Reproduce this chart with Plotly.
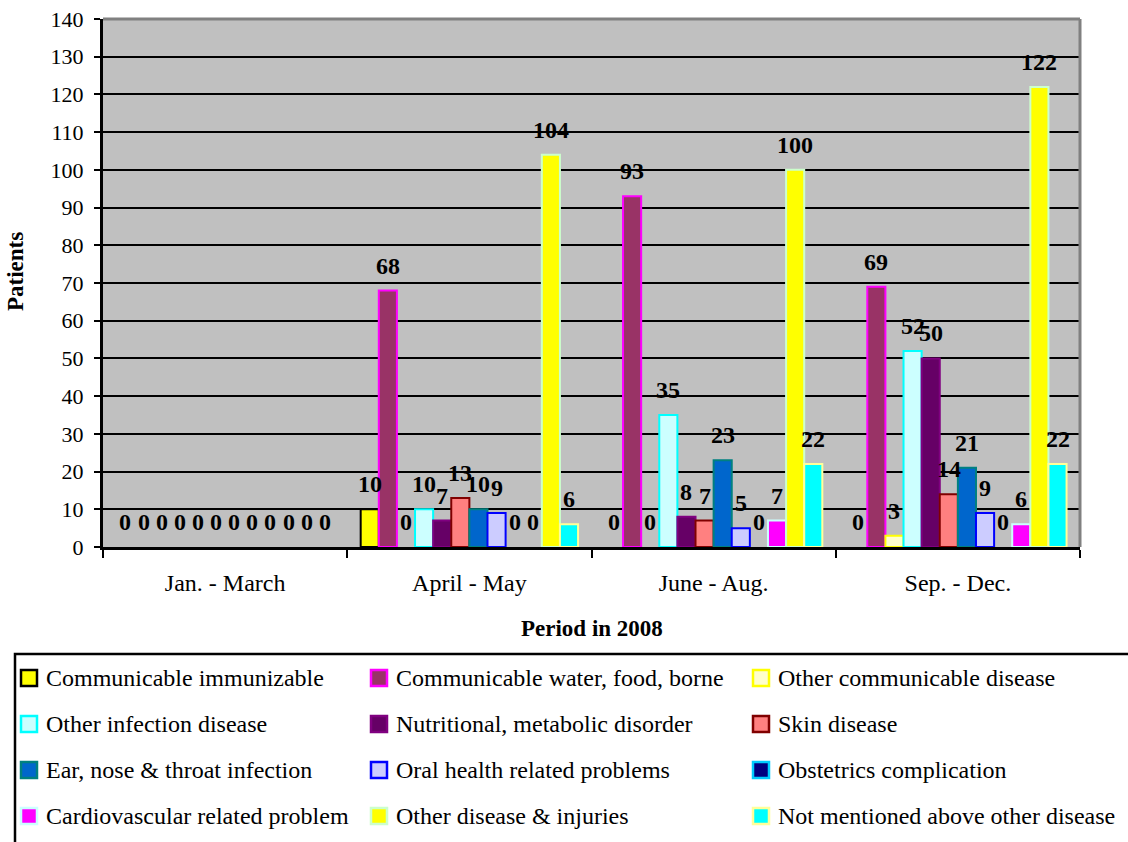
import plotly.graph_objects as go

# Patients per disease group, by period of 2008
periods = ["Jan. - March", "April - May", "June - Aug.", "Sep. - Dec."]

communicable_immunizable = [0, 10, 0, 0]
communicable_water_food = [0, 68, 93, 69]
other_communicable = [0, 0, 0, 3]
other_infection = [0, 10, 35, 52]
nutritional_metabolic = [0, 7, 8, 50]
skin_disease = [0, 13, 7, 14]
ear_nose_throat = [0, 10, 23, 21]
oral_health = [0, 9, 5, 9]
obstetrics = [0, 0, 0, 0]
cardiovascular = [0, 0, 7, 6]
other_disease_injuries = [0, 104, 100, 122]
not_mentioned = [0, 6, 22, 22]

y_ticks = list(range(0, 141, 10))

# (name, values, fill colour, border colour)
series = [
    ("Communicable immunizable", communicable_immunizable, "#FFFF00", "#000000"),
    ("Communicable water, food, borne", communicable_water_food, "#993366", "#FF00FF"),
    ("Other communicable disease", other_communicable, "#FFFFCC", "#FFFF00"),
    ("Other infection disease", other_infection, "#CCFFFF", "#00FFFF"),
    ("Nutritional, metabolic disorder", nutritional_metabolic, "#660066", "#800080"),
    ("Skin disease", skin_disease, "#FF8080", "#800000"),
    ("Ear, nose & throat infection", ear_nose_throat, "#0066CC", "#008080"),
    ("Oral health related problems", oral_health, "#CCCCFF", "#0000FF"),
    ("Obstetrics complication", obstetrics, "#000080", "#00CCFF"),
    ("Cardiovascular related problem", cardiovascular, "#FF00FF", "#CCFFFF"),
    ("Other disease & injuries", other_disease_injuries, "#FFFF00", "#CCFFCC"),
    ("Not mentioned above other disease", not_mentioned, "#00FFFF", "#FFFF99"),
]

W, H = 1128, 842
ML, MR, MT, MB = 103, 48, 19, 295
PW, PH = W - ML - MR, H - MT - MB
FONT = "Liberation Serif"
BARGAP = 0.11


def px_x(px):
    return (px - ML) / PW


def px_y(py):
    return (H - MB - py) / PH


fig = go.Figure()
for name, vals, fill, border in series:
    # empty bars get no outline so nothing shows on the baseline
    fig.add_trace(go.Bar(
        name=name, x=periods, y=vals,
        marker=dict(color=fill,
                    line=dict(color=border, width=[2 if v else 0 for v in vals])),
        showlegend=False,
    ))

annotations = []
shapes = []

# value labels above every bar
n = len(series)
bw = (1 - BARGAP) / n
for i, (name, vals, fill, border) in enumerate(series):
    for j, v in enumerate(vals):
        annotations.append(dict(
            x=j + (i - (n - 1) / 2) * bw, y=v, xref="x", yref="y",
            text=f"<b>{v}</b>", showarrow=False,
            yanchor="middle", yshift=25,
            font=dict(family=FONT, size=24, color="black"),
        ))

# axis titles
annotations.append(dict(
    x=0.5, y=0, xref="paper", yref="paper", yshift=-81, yanchor="middle",
    text="<b>Period in 2008</b>", showarrow=False,
    font=dict(family=FONT, size=23, color="black"),
))
annotations.append(dict(
    x=0, y=px_y(272), xref="paper", yref="paper", xshift=-(ML - 15),
    xanchor="center", yanchor="middle", textangle=-90,
    text="<b>Patients</b>", showarrow=False,
    font=dict(family=FONT, size=23, color="black"),
))

# grey frame on top and right of the plot area
shapes.append(dict(type="line", xref="paper", yref="paper", x0=0, x1=1, y0=1, y1=1,
                   line=dict(color="#808080", width=3)))
shapes.append(dict(type="line", xref="paper", yref="paper", x0=1, x1=1, y0=0, y1=1,
                   line=dict(color="#808080", width=3)))

# legend box
shapes.append(dict(type="rect", xref="paper", yref="paper",
                   x0=px_x(15), x1=px_x(1140), y0=px_y(654), y1=px_y(860),
                   line=dict(color="black", width=2.5), fillcolor="rgba(0,0,0,0)"))

col_x = [21, 371, 753]
row_y = [678, 724, 770, 816]
for k, (name, vals, fill, border) in enumerate(series):
    r, c = divmod(k, 3)
    x0, yc = col_x[c], row_y[r]
    shapes.append(dict(type="rect", xref="paper", yref="paper",
                       x0=px_x(x0), x1=px_x(x0 + 16), y0=px_y(yc - 8), y1=px_y(yc + 8),
                       fillcolor=fill, line=dict(color=border, width=2.5)))
    annotations.append(dict(
        x=px_x(x0 + 23), y=px_y(yc), xref="paper", yref="paper",
        xanchor="left", yanchor="middle", text=name, showarrow=False,
        font=dict(family=FONT, size=24, color="black"),
    ))

fig.update_layout(
    width=W, height=H,
    margin=dict(l=ML, r=MR, t=MT, b=MB, autoexpand=False),
    paper_bgcolor="white", plot_bgcolor="#C0C0C0",
    barmode="group", bargap=BARGAP, bargroupgap=0,
    font=dict(family=FONT, size=21, color="black"),
    annotations=annotations, shapes=shapes,
    xaxis=dict(
        type="category", tickson="boundaries", ticks="outside", ticklen=8,
        tickwidth=2, tickcolor="black", showline=True, linecolor="black",
        linewidth=3, showgrid=False, ticklabelstandoff=12,
        tickfont=dict(family=FONT, size=24, color="black"),
    ),
    yaxis=dict(
        range=[0, 140], tickvals=y_ticks, ticks="outside", ticklen=6,
        tickwidth=2, tickcolor="black", showline=True, linecolor="black",
        linewidth=3, showgrid=True, gridcolor="black", gridwidth=2,
        zeroline=False, ticklabelstandoff=6,
        tickfont=dict(family=FONT, size=22, color="black"),
    ),
)

fig.write_html("out.html")
